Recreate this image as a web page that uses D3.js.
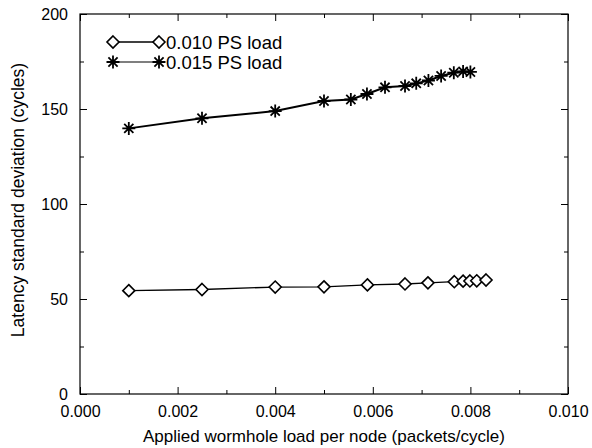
<!DOCTYPE html>
<html><head><meta charset="utf-8">
<script src="https://cdn.jsdelivr.net/npm/d3@7"></script>
<style>body{margin:0;background:#fff}svg{display:block}text{font-family:"Liberation Sans",Arial,Helvetica,sans-serif;fill:#000}</style>
</head><body><svg id="c" width="592" height="448"></svg>
<script>
const seriesNames = ["0.010 PS load", "0.015 PS load"];
const xDiamond = [0.001, 0.0025, 0.004, 0.005, 0.00589, 0.00666, 0.00713, 0.00767, 0.00785, 0.00799, 0.00813, 0.00832];
const yDiamond = [54.4, 55.0, 56.3, 56.4, 57.4, 57.9, 58.5, 59.1, 59.4, 59.5, 59.6, 60.0];
const xStar = [0.001, 0.0025, 0.004, 0.005, 0.00555, 0.00588, 0.00625, 0.00666, 0.00689, 0.00714, 0.0074, 0.00766, 0.00785, 0.008];
const yStar = [139.8, 145.1, 148.9, 154.2, 155.0, 157.9, 161.4, 162.1, 163.5, 165.0, 167.4, 169.1, 169.8, 169.5];
const xMajorTicks = [0, 0.002, 0.004, 0.006, 0.008, 0.010];
const xMinorTicks = [0.001, 0.003, 0.005, 0.007, 0.009];
const yMajorTicks = [0, 50, 100, 150, 200];
const yMinorTicks = [25, 75, 125, 175];

const svg = d3.select("#c");
const L = 80, R = 568, T = 14, B = 394;
const x = d3.scaleLinear().domain([0, 0.010]).range([L, R]);
const y = d3.scaleLinear().domain([0, 200]).range([B, T]);

function styleAxis(g){ g.select(".domain").remove(); g.selectAll("line").attr("stroke","#000").attr("stroke-width",1); }

// frame
svg.append("rect").attr("x",L).attr("y",T).attr("width",R-L).attr("height",B-T)
  .attr("fill","none").attr("stroke","#000").attr("stroke-width",1.2);

// bottom axis
svg.append("g").attr("transform",`translate(0,${B})`)
  .call(d3.axisBottom(x).tickValues(xMajorTicks).tickFormat(d3.format(".3f")).tickSizeInner(-7).tickSizeOuter(0).tickPadding(12))
  .call(styleAxis).call(g=>g.selectAll("text").attr("font-size",16));
svg.append("g").attr("transform",`translate(0,${B})`)
  .call(d3.axisBottom(x).tickValues(xMinorTicks).tickFormat("").tickSizeInner(-4).tickSizeOuter(0)).call(styleAxis);
// top axis
svg.append("g").attr("transform",`translate(0,${T})`)
  .call(d3.axisTop(x).tickValues(xMajorTicks).tickFormat("").tickSizeInner(-7).tickSizeOuter(0)).call(styleAxis);
svg.append("g").attr("transform",`translate(0,${T})`)
  .call(d3.axisTop(x).tickValues(xMinorTicks).tickFormat("").tickSizeInner(-4).tickSizeOuter(0)).call(styleAxis);
// left axis
svg.append("g").attr("transform",`translate(${L},0)`)
  .call(d3.axisLeft(y).tickValues(yMajorTicks).tickFormat(d3.format("d")).tickSizeInner(-7).tickSizeOuter(0).tickPadding(12))
  .call(styleAxis).call(g=>g.selectAll("text").attr("font-size",16));
svg.append("g").attr("transform",`translate(${L},0)`)
  .call(d3.axisLeft(y).tickValues(yMinorTicks).tickFormat("").tickSizeInner(-4).tickSizeOuter(0)).call(styleAxis);
// right axis
svg.append("g").attr("transform",`translate(${R},0)`)
  .call(d3.axisRight(y).tickValues(yMajorTicks).tickFormat("").tickSizeInner(-7).tickSizeOuter(0)).call(styleAxis);
svg.append("g").attr("transform",`translate(${R},0)`)
  .call(d3.axisRight(y).tickValues(yMinorTicks).tickFormat("").tickSizeInner(-4).tickSizeOuter(0)).call(styleAxis);

// axis titles
svg.append("text").attr("x",(L+R)/2).attr("y",442).attr("text-anchor","middle").attr("font-size",17)
  .text("Applied wormhole load per node (packets/cycle)");
svg.append("text").attr("transform",`translate(24,${(T+B)/2 - 4}) rotate(-90)`).attr("text-anchor","middle").attr("font-size",17.5)
  .text("Latency standard deviation (cycles)");

// markers
const diamondPath = "M0,-6L6,0L0,6L-6,0Z";
const starPath = "M0,-6.5V6.5M-6.5,0H6.5M-4.6,-4.6L4.6,4.6M-4.6,4.6L4.6,-4.6";
function drawDiamond(g, cx, cy){ g.append("path").attr("d",diamondPath).attr("transform",`translate(${cx},${cy})`).attr("fill","#fff").attr("stroke","#000").attr("stroke-width",1.6); }
function drawStar(g, cx, cy){ g.append("path").attr("d",starPath).attr("transform",`translate(${cx},${cy})`).attr("fill","none").attr("stroke","#000").attr("stroke-width",1.8); }

const line = d3.line().x(d=>x(d[0])).y(d=>y(d[1]));
const dData = xDiamond.map((v,i)=>[v,yDiamond[i]]);
const sData = xStar.map((v,i)=>[v,yStar[i]]);
svg.append("path").datum(sData).attr("d",line).attr("fill","none").attr("stroke","#000").attr("stroke-width",2);
svg.append("path").datum(dData).attr("d",line).attr("fill","none").attr("stroke","#000").attr("stroke-width",1.3);
const gm = svg.append("g");
sData.forEach(d=>drawStar(gm, x(d[0]), y(d[1])));
dData.forEach(d=>drawDiamond(gm, x(d[0]), y(d[1])));

// legend
const lg = svg.append("g");
const legRows = [{y:42, kind:"d", w:1.6}, {y:62, kind:"s", w:1.2}];
legRows.forEach((r,i)=>{
  lg.append("line").attr("x1",113).attr("x2",159).attr("y1",r.y).attr("y2",r.y).attr("stroke","#000").attr("stroke-width",r.w);
  if(r.kind==="d"){ drawDiamond(lg,113,r.y); drawDiamond(lg,159,r.y); } else { drawStar(lg,113,r.y); drawStar(lg,159,r.y); }
  lg.append("text").attr("x",166).attr("y",r.y+6.5).attr("font-size",18.5).text(seriesNames[i]);
});
</script></body></html>
